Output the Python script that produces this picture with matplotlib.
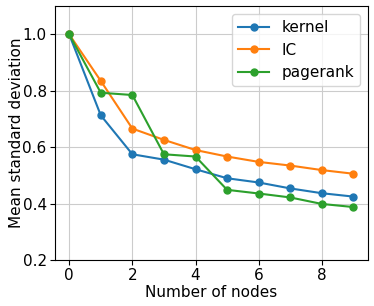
import matplotlib
matplotlib.use('Agg')
import matplotlib.pyplot as plt
import numpy as np

nodes = np.arange(10)
kernel = [1.0, 0.713, 0.575, 0.556, 0.522, 0.490, 0.475, 0.454, 0.437, 0.425]
ic = [1.0, 0.835, 0.666, 0.626, 0.590, 0.567, 0.548, 0.535, 0.519, 0.506]
pagerank = [1.0, 0.793, 0.785, 0.575, 0.567, 0.449, 0.436, 0.422, 0.399, 0.388]

plt.rcParams['font.size'] = 11

fig = plt.figure(figsize=(3.74, 3.06), dpi=100)
ax = fig.add_subplot(111)
ax.plot(nodes, kernel, 'o-', label='kernel', markersize=5)
ax.plot(nodes, ic, 'o-', label='IC', markersize=5)
ax.plot(nodes, pagerank, 'o-', label='pagerank', markersize=5)
ax.set_ylim(0.2, 1.1)
ax.set_xticks([0, 2, 4, 6, 8])
ax.set_yticks([0.2, 0.4, 0.6, 0.8, 1.0])
ax.tick_params(pad=2.5)
ax.set_xlabel('Number of nodes', labelpad=1)
ax.set_ylabel('Mean standard deviation', labelpad=-1)
ax.grid(True, color='#cccccc')
ax.legend(loc='upper right')

plt.subplots_adjust(left=0.147, right=0.983, top=0.98, bottom=0.15)
plt.savefig('out.png', dpi=100)
